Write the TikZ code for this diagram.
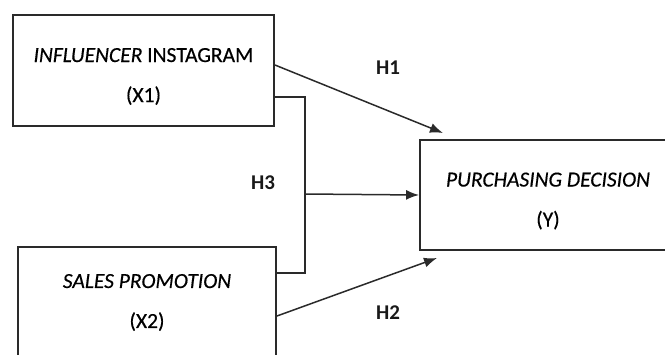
\documentclass[tikz,border=0pt]{standalone}
\usepackage{fontspec}
\setmainfont{Carlito}
\newfontfamily\boxfont{Carlito}[FakeBold=0.4]
\usetikzlibrary{arrows.meta,calc}
\definecolor{linec}{HTML}{2A2A2A}
\tikzset{
  varbox/.style={draw=linec, line width=1.9pt, rectangle, inner sep=0pt, align=center,
    font=\boxfont\fontsize{21.5}{40}\selectfont, text=black},
  link/.style={draw=linec, line width=1.5pt},
  arr/.style={link, -{Latex[length=13pt,width=10pt]}},
  hlabel/.style={font=\fontsize{21}{24}\selectfont\bfseries, text=black!90}
}
\newcommand{\topstrut}{\rule{0pt}{26pt}}
\begin{document}
\begin{tikzpicture}[x=1pt,y=-1pt]
\useasboundingbox (0,0) rectangle (665,354);
\clip (0,0) rectangle (665,354);
\node[varbox, minimum width=261pt, minimum height=111pt] (x1) at (143.5,70.5)
  {\topstrut\textit{INFLUENCER} INSTAGRAM\\(X1)};
\node[varbox, minimum width=258pt, minimum height=111pt] (x2) at (147,302.5)
  {\textit{SALES PROMOTION}\\(X2)};
\node[varbox, minimum width=256pt, minimum height=110pt] (y) at (548,195)
  {\topstrut\textit{PURCHASING DECISION}\\(Y)};

\coordinate (h1end) at (443,133);
\coordinate (h2end) at (437,258);
\coordinate (jtop) at (305,97);
\coordinate (jbot) at (305,273);
\coordinate (jmid) at (305,194);

\draw[arr] ([yshift=5.5pt]x1.east) -- (h1end);
\draw[arr] ([yshift=-13.5pt]x2.east) -- (h2end);
\draw[link] (x1.east |- jtop) -- (jtop) -- (jbot) -- (x2.east |- jbot);
\draw[arr] (jmid) -- (y.west);

\node[hlabel] (h1) at (388,68) {H1};
\node[hlabel] (h3) at (263,183) {H3};
\node[hlabel] (h2) at (388,313) {H2};
\end{tikzpicture}
\end{document}
